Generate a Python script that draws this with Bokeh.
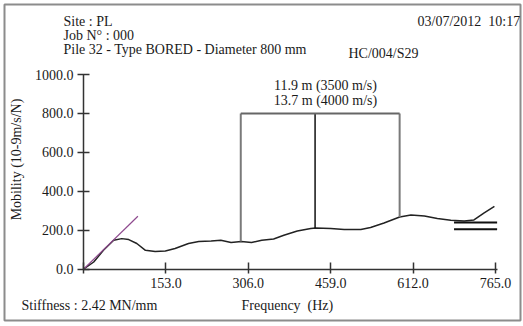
from bokeh.plotting import figure
from bokeh.models import LinearAxis, FixedTicker, Range1d, Label
from bokeh.embed import file_html
from bokeh.resources import INLINE
import numpy as np

# Mobility response of pile 32 (frequency in Hz, mobility in 10-9 m/s/N)
freq = [0, 19, 37, 56, 71, 84, 99, 115, 133, 152, 170, 195, 214, 237, 255, 274,
        293, 312, 331, 353, 372, 397, 422, 431, 459, 484, 515, 533, 558, 587,
        608, 633, 657, 682, 707, 725, 744, 763]
mobility = [0, 37, 97, 149, 157, 152, 132, 97, 91, 94, 106, 132, 142, 145, 149, 137,
            142, 137, 149, 155, 174, 196, 209, 212, 209, 204, 204, 214, 237, 268,
            278, 273, 260, 251, 248, 253, 289, 323]

# Stiffness slope at low frequency
stiff_freq = [0, 101]
stiff_mob = [0, 272]

# Resonance markers (length readings) and their common top level
marker_freq = [292, 430, 587]
marker_top = 800

# Mean mobility levels over the high-frequency band
mean_freq = [688, 768]
mean_levels = [240, 205]

x_ticks = [0, 153, 306, 459, 612, 765]
x_tick_labels = ["", "153.0", "306.0", "459.0", "612.0", "765.0"]
y_ticks = [0, 200, 400, 600, 800, 1000]
y_tick_labels = ["0.0", "200.0", "400.0", "600.0", "800.0", "1000.0"]

header_lines = ["Site : PL", "Job N\u00b0 : 000", "Pile 32 - Type BORED - Diameter 800 mm"]
date_text = "03/07/2012 \u00a010:17"
ref_text = "HC/004/S29"
length_lines = ["11.9 m (3500 m/s)", "13.7 m (4000 m/s)"]
stiffness_text = "Stiffness : 2.42 MN/mm"
x_title = "Frequency \u00a0(Hz)"
y_title = "Mobility (10-9m/s/N)"

FONT = "Liberation Serif"
FS = "14px"
INK = "#1a1a1a"

W, H = 523, 326
FL, FT, FR, FB = 4, 4, 520, 320          # frame box in page pixels
X0, X765 = 83.0, 495.0                   # pixel columns of 0 Hz and 765 Hz
Y0, Y1000 = 268.7, 74.0                  # pixel rows of 0 and 1000
kx = (X765 - X0) / 765.0
ky = (Y0 - Y1000) / 1000.0

p = figure(width=W, height=H, output_backend="svg", toolbar_location=None,
           x_axis_type=None, y_axis_type=None, title=None,
           x_range=Range1d((FL - X0) / kx, (FR - X0) / kx),
           y_range=Range1d((Y0 - FB) / ky, (Y0 - FT) / ky),
           min_border_left=FL, min_border_top=FT,
           min_border_right=W - FR, min_border_bottom=H - FB)
p.background_fill_color = "white"
p.border_fill_color = "white"
p.outline_line_color = "#8c8c8c"
p.outline_line_width = 2


def style_axis(ax):
    ax.axis_line_color = "#333333"
    ax.axis_line_width = 1.5
    ax.major_tick_line_color = "#333333"
    ax.major_tick_line_width = 1.5
    ax.minor_tick_line_color = None
    ax.major_label_text_font = FONT
    ax.major_label_text_font_size = FS
    ax.major_label_text_color = INK


xaxis = LinearAxis(fixed_location=0, bounds=(0, 769),
                   ticker=FixedTicker(ticks=x_ticks),
                   major_label_overrides=dict(zip(x_ticks, x_tick_labels)))
style_axis(xaxis)
xaxis.major_tick_in = 7
xaxis.major_tick_out = 4
xaxis.major_label_standoff = 5
p.add_layout(xaxis, "below")

yaxis = LinearAxis(fixed_location=0, bounds=(0, 1000),
                   ticker=FixedTicker(ticks=y_ticks),
                   major_label_overrides=dict(zip(y_ticks, y_tick_labels)))
style_axis(yaxis)
yaxis.major_tick_in = 6
yaxis.major_tick_out = 6
yaxis.major_label_standoff = 4
p.add_layout(yaxis, "left")

# mobility curve and stiffness slope
p.line(freq, mobility, line_color="#222222", line_width=1.5)
p.line(stiff_freq, stiff_mob, line_color="#8e4a8e", line_width=1.2)

# resonance markers: verticals from the curve up to the common top line
marker_base = np.interp(marker_freq, freq, mobility)
marker_colors = ["#7a7a7a", "#111111", "#7a7a7a"]
marker_widths = [2, 1.5, 2]
for f, b, c, w in zip(marker_freq, marker_base, marker_colors, marker_widths):
    p.segment(x0=[f], y0=[b], x1=[f], y1=[marker_top], line_color=c, line_width=w)
p.segment(x0=[marker_freq[0]], y0=[marker_top], x1=[marker_freq[-1]], y1=[marker_top],
          line_color="#666666", line_width=2)

# mean mobility levels
for lvl in mean_levels:
    p.segment(x0=[mean_freq[0]], y0=[lvl], x1=[mean_freq[1]], y1=[lvl],
              line_color="#111111", line_width=2)


def add_text(txt, px, py, align="left", angle=0.0, baseline="alphabetic"):
    p.add_layout(Label(x=px - FL, y=FB - py, x_units="screen", y_units="screen",
                       text=txt, text_font=FONT, text_font_size=FS, text_color=INK,
                       text_align=align, text_baseline=baseline, angle=angle))


for line, base in zip(header_lines, [20.5, 34.5, 49.0]):
    add_text(line, 63, base)
add_text(date_text, 417, 20.5)
add_text(ref_text, 348, 53.0)
for line, base in zip(length_lines, [85.0, 100.0]):
    add_text(line, 325, base, align="center")
add_text(stiffness_text, 21, 305)
add_text(x_title, 241, 305)
add_text(y_title, 16, 159, align="center", angle=np.pi / 2, baseline="middle")

open("out.html", "w").write(file_html(p, INLINE))
